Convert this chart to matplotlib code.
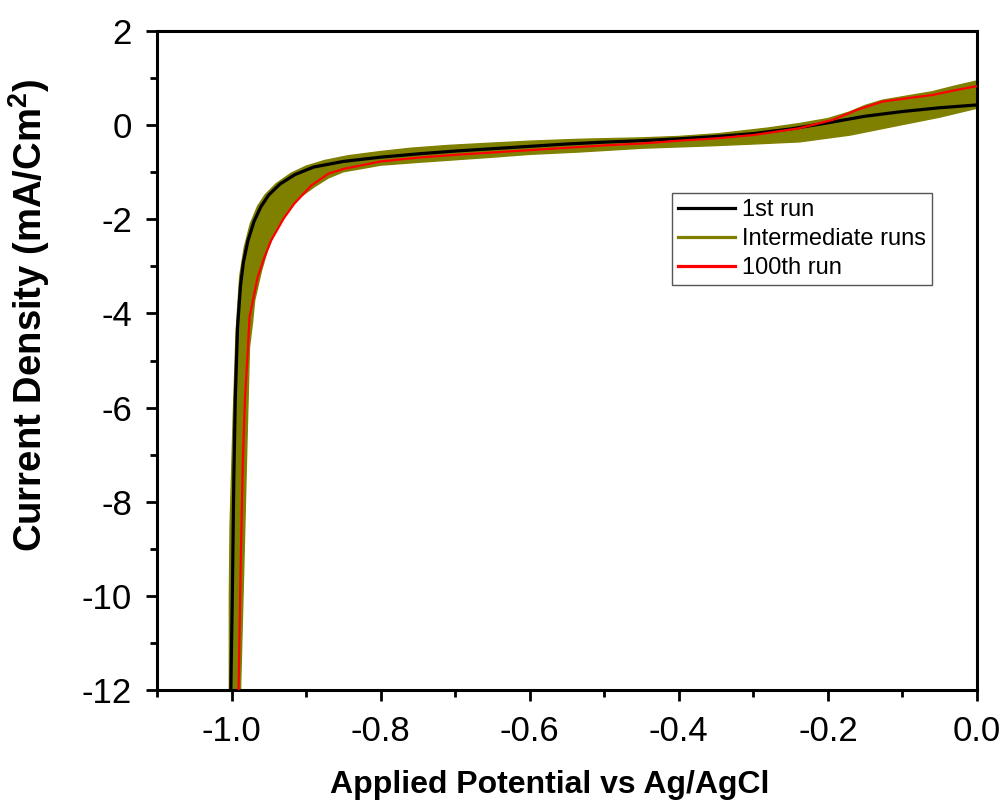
import numpy as np
import matplotlib
matplotlib.use('Agg')
import matplotlib.pyplot as plt
from matplotlib.lines import Line2D

# Dati (potenziale in V vs Ag/AgCl, densita' di corrente in mA/cm2)
first_E = [0.0, -0.05, -0.10, -0.15, -0.20, -0.25, -0.30, -0.35, -0.40, -0.45, -0.50,
           -0.55, -0.60, -0.65, -0.70, -0.75, -0.80, -0.85, -0.89, -0.915, -0.935,
           -0.95, -0.961, -0.970, -0.978, -0.984, -0.988, -0.992, -0.995, -0.997,
           -0.999, -1.001]
first_j = [0.43, 0.37, 0.29, 0.19, 0.05, -0.08, -0.18, -0.24, -0.29, -0.33, -0.36,
           -0.40, -0.45, -0.50, -0.55, -0.61, -0.68, -0.77, -0.89, -1.05, -1.25,
           -1.48, -1.74, -2.05, -2.45, -2.9, -3.4, -4.3, -5.8, -7.5,
           -10.0, -12.0]

last_E = [0.0, -0.03, -0.06, -0.09, -0.127, -0.16, -0.194, -0.24, -0.30, -0.35,
          -0.40, -0.45, -0.50, -0.55, -0.60, -0.65, -0.70, -0.75, -0.80, -0.85,
          -0.87, -0.893, -0.916, -0.93, -0.947, -0.957, -0.965, -0.976, -0.978,
          -0.982, -0.985, -0.988, -0.9906]
last_j = [0.83, 0.74, 0.64, 0.58, 0.50, 0.33, 0.11, -0.07, -0.21, -0.28,
          -0.33, -0.39, -0.43, -0.48, -0.53, -0.58, -0.63, -0.69, -0.77, -0.93,
          -1.03, -1.28, -1.67, -1.98, -2.45, -2.85, -3.23, -4.08, -4.72,
          -5.8, -7.2, -9.5, -12.0]

# inviluppo delle scansioni intermedie (bordo superiore e inferiore)
mid_top_E = [0.0, -0.03, -0.06, -0.09, -0.127, -0.15, -0.171, -0.20, -0.238, -0.28,
             -0.346, -0.40, -0.45, -0.534, -0.60, -0.65, -0.709, -0.76, -0.80,
             -0.844, -0.875, -0.90, -0.92, -0.94, -0.955, -0.965, -0.975, -0.983,
             -0.989, -0.994, -0.998, -1.002, -1.003, -1.003]
mid_top_j = [0.94, 0.83, 0.71, 0.63, 0.53, 0.42, 0.28, 0.14, 0.035, -0.06,
             -0.18, -0.24, -0.27, -0.30, -0.34, -0.38, -0.43, -0.49, -0.56,
             -0.65, -0.75, -0.87, -1.02, -1.24, -1.48, -1.72, -2.1, -2.6,
             -3.2, -4.4, -6.3, -8.5, -10.0, -12.0]
mid_bot_E = [-0.988, -0.983, -0.979, -0.976, -0.972, -0.969, -0.960, -0.952, -0.940,
             -0.925, -0.910, -0.889, -0.870, -0.850, -0.800, -0.750, -0.709, -0.650,
             -0.600, -0.534, -0.450, -0.360, -0.300, -0.238, -0.170, -0.104, -0.05,
             0.0]
mid_bot_j = [-12.0, -9.0, -6.5, -4.72, -4.2, -3.72, -3.1, -2.66, -2.2,
             -1.81, -1.55, -1.31, -1.12, -0.99, -0.85, -0.79, -0.745, -0.68,
             -0.62, -0.57, -0.49, -0.44, -0.40, -0.355, -0.21, 0.0, 0.17,
             0.36]

x_ticks = [-1.0, -0.8, -0.6, -0.4, -0.2, 0.0]
y_ticks = [2, 0, -2, -4, -6, -8, -10, -12]

plt.rcParams['font.family'] = ['Liberation Sans', 'DejaVu Sans']
plt.rcParams['axes.unicode_minus'] = False
plt.rcParams['mathtext.fontset'] = 'custom'
plt.rcParams['mathtext.rm'] = 'Liberation Sans:bold'
plt.rcParams['mathtext.default'] = 'rm'

fig = plt.figure(figsize=(10.08, 8.1), dpi=100)
ax = fig.add_axes([0.1558, 0.1481, 0.8134, 0.8136])

olive = '#808000'
band_E = np.concatenate([mid_top_E, mid_bot_E])
band_j = np.concatenate([mid_top_j, mid_bot_j])
ax.fill(band_E, band_j, color=olive, lw=1.0, ec=olive, zorder=1)

ax.plot(first_E, first_j, color='black', lw=2.3, zorder=3)
ax.plot(last_E, last_j, color='#ff0000', lw=1.6, zorder=4)

ax.set_xlim(-1.1, 0.0)
ax.set_ylim(-12, 2)
ax.set_xticks(x_ticks)
ax.set_xticklabels([f'{v:.1f}' for v in x_ticks])
ax.set_yticks(y_ticks)
ax.set_xticks(np.arange(-1.1, 0.0, 0.2), minor=True)
ax.set_yticks(np.arange(-11, 2, 2), minor=True)

ax.tick_params(which='major', direction='out', length=8, width=2, labelsize=25, pad=10)
ax.tick_params(which='minor', direction='out', length=5, width=2)
for s in ax.spines.values():
    s.set_linewidth(2.2)

ax.set_xlabel('Applied Potential vs Ag/AgCl', fontsize=23, fontweight='bold')
ax.xaxis.set_label_coords(0.479, -0.122)
ax.set_ylabel('Current Density (mA/Cm$^2$)', fontsize=27.5, fontweight='bold')
ax.yaxis.set_label_coords(-0.128, 0.569)

handles = [Line2D([], [], color='black', lw=2.3),
           Line2D([], [], color=olive, lw=2.3),
           Line2D([], [], color='#ff0000', lw=2.3)]
leg = ax.legend(handles, ['1st run', 'Intermediate runs', '100th run'],
                loc='upper left', bbox_to_anchor=(0.628, 0.754), borderaxespad=0,
                fontsize=17, handlelength=2.4, handletextpad=0.3, labelspacing=0.3,
                borderpad=0.25, fancybox=False, framealpha=1)
leg.get_frame().set_edgecolor('#555555')
leg.get_frame().set_linewidth(1.0)

fig.savefig('out.png', dpi=100)
